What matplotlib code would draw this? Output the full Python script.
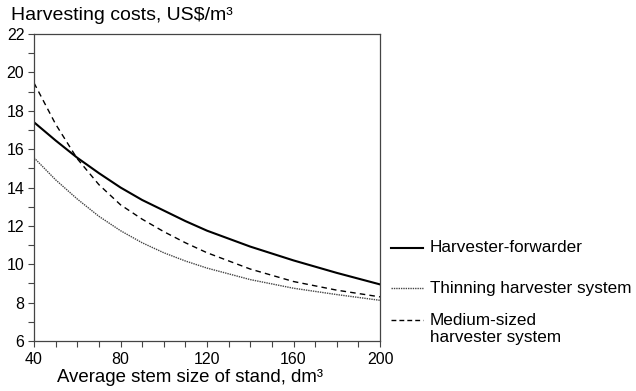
import matplotlib
matplotlib.use("Agg")
import matplotlib.pyplot as plt
from matplotlib.lines import Line2D
from matplotlib.ticker import MultipleLocator

plt.rcParams['font.family'] = ['Liberation Sans', 'DejaVu Sans']

stem_size = [40, 50, 60, 70, 80, 90, 100, 110, 120, 140, 160, 180, 200]
harvester_forwarder = [17.4, 16.45, 15.55, 14.75, 14.0, 13.35, 12.8, 12.25, 11.75, 10.92, 10.2, 9.55, 8.95]
thinning_harvester = [15.55, 14.4, 13.4, 12.5, 11.75, 11.12, 10.6, 10.17, 9.8, 9.2, 8.75, 8.42, 8.12]
medium_harvester = [19.45, 17.3, 15.5, 14.15, 13.1, 12.35, 11.7, 11.12, 10.6, 9.75, 9.1, 8.65, 8.3]

labels = ["Harvester-forwarder", "Thinning harvester system", "Medium-sized\nharvester system"]

W, H = 636, 391
fig = plt.figure(figsize=(W / 100, H / 100), dpi=100)
ax = fig.add_axes([34 / W, 50 / H, 346 / W, 307 / H])

solid_style = dict(color='black', lw=1.5, ls='-')
dot_style = dict(color='#444444', lw=1.0, ls=(0, (1, 0.7)))
dash_style = dict(color='black', lw=1.0, ls=(0, (4, 3)))

ax.plot(stem_size, harvester_forwarder, **solid_style)
ax.plot(stem_size, thinning_harvester, **dot_style)
ax.plot(stem_size, medium_harvester, **dash_style)

ax.set_xlim(40, 200)
ax.set_ylim(6, 22)
ax.set_xticks([40, 80, 120, 160, 200])
ax.set_yticks([6, 8, 10, 12, 14, 16, 18, 20, 22])
ax.xaxis.set_minor_locator(MultipleLocator(10))
ax.yaxis.set_minor_locator(MultipleLocator(1))
ax.tick_params(which='both', direction='out', length=4, width=0.8, labelsize=11.5, color='#444444')
ax.tick_params(axis='x', pad=4)
ax.tick_params(axis='y', pad=3)
for s in ax.spines.values():
    s.set_color('#444444')
    s.set_linewidth(0.9)

fig.text(11 / W, 1 - 15 / H, "Harvesting costs, US$/m³", fontsize=14.0, ha='left', va='center')
fig.text(190 / W, 1 - 377 / H, "Average stem size of stand, dm³", fontsize=13.4, ha='center', va='center')

# legend drawn in figure coordinates
legend_rows = [(248, 248), (288, 288), (320, 329)]
styles = [solid_style, dot_style, dict(color='black', lw=1.0, ls=(0, (3.5, 2.2)))]
for (ly, ty), st, lab in zip(legend_rows, styles, labels):
    fig.add_artist(Line2D([391 / W, 423 / W], [1 - ly / H, 1 - ly / H], transform=fig.transFigure, **st))
    fig.text(430 / W, 1 - ty / H, lab, fontsize=12.3, ha='left', va='center', linespacing=1.2)

fig.savefig("out.png", dpi=100)
